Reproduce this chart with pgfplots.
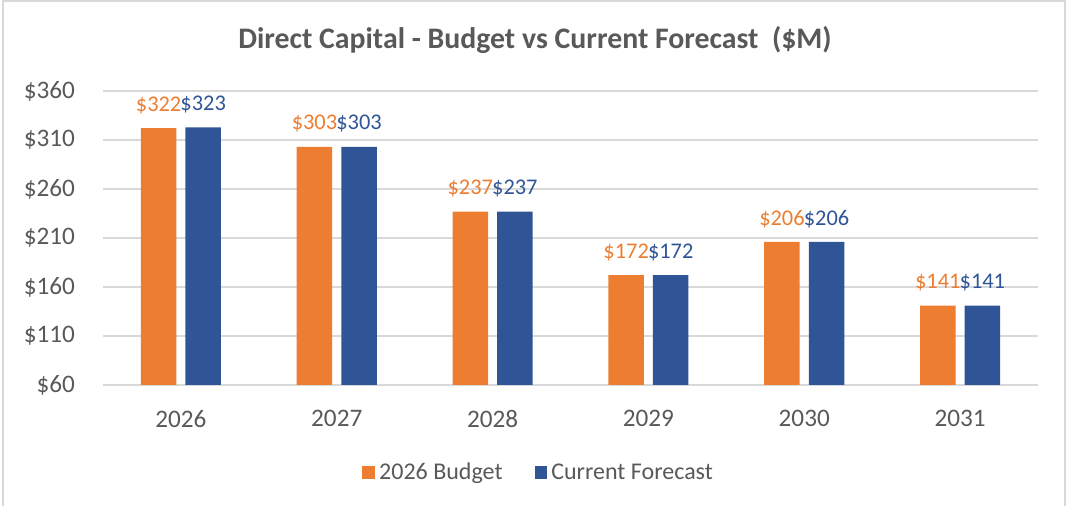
\documentclass[border=0pt]{standalone}
\usepackage{fontspec}
\setmainfont{Carlito}
\usepackage{pgfplots}
\pgfplotsset{compat=1.18}
\definecolor{budget}{HTML}{ED7D31}
\definecolor{forecast}{HTML}{2F5597}
\definecolor{txt}{HTML}{595959}
\definecolor{gridc}{HTML}{D9D9D9}
\begin{document}
\begin{tikzpicture}
\useasboundingbox (0,0) rectangle (534pt,253pt);
\draw[gridc, line width=1pt] (1.5pt,0) -- (1.5pt,252.5pt) -- (532.5pt,252.5pt) -- (532.5pt,0);
\node[font=\bfseries\fontsize{14.9}{16}\selectfont, text=txt] at (267.5pt,233pt) {Direct Capital - Budget vs Current Forecast\ \ (\$M)};
\begin{axis}[
    at={(51.5pt,60.5pt)}, anchor=south west,
    scale only axis,
    width=467.5pt, height=147pt,
    xmin=-0.5, xmax=5.5,
    ymin=60, ymax=360,
    xtick={0,...,5},
    xticklabels={2026,2027,2028,2029,2030,2031},
    ytick={60,110,...,360},
    yticklabel={\$\pgfmathprintnumber{\tick}},
    /pgf/number format/assume math mode=true,
    axis x line*=bottom, axis y line*=left,
    x axis line style={gridc, line width=1pt},
    y axis line style={draw=none},
    major tick length=0pt,
    ymajorgrids=true,
    grid style={gridc, line width=0.75pt},
    tick label style={font=\fontsize{12.6}{14}\selectfont, text=txt},
    xticklabel style={yshift=-9pt},
    yticklabel style={xshift=-10.5pt},
    ybar, bar width=0.228,
    nodes near coords={\$\pgfmathprintnumber{\pgfplotspointmeta}},
    nodes near coords style={font=\fontsize{11.2}{13}\selectfont, inner sep=0pt, yshift=7pt},
    legend columns=2,
    legend style={draw=none, at={(0.467,-0.299)}, anchor=center, font=\fontsize{12}{14}\selectfont, text=txt,
        /tikz/every even column/.append style={column sep=14pt}},
    legend image code/.code={\fill[#1] (0pt,-3.2pt) rectangle (6.4pt,3.2pt);},
]
\addplot+[bar shift=-0.143, fill=budget, draw=none, nodes near coords style={text=budget}] coordinates {(0,322) (1,303) (2,237) (3,172) (4,206) (5,141)};
\addplot+[bar shift=0.143, fill=forecast, draw=none, nodes near coords style={text=forecast}] coordinates {(0,323) (1,303) (2,237) (3,172) (4,206) (5,141)};
\legend{2026 Budget, Current Forecast}
\end{axis}
\end{tikzpicture}
\end{document}
